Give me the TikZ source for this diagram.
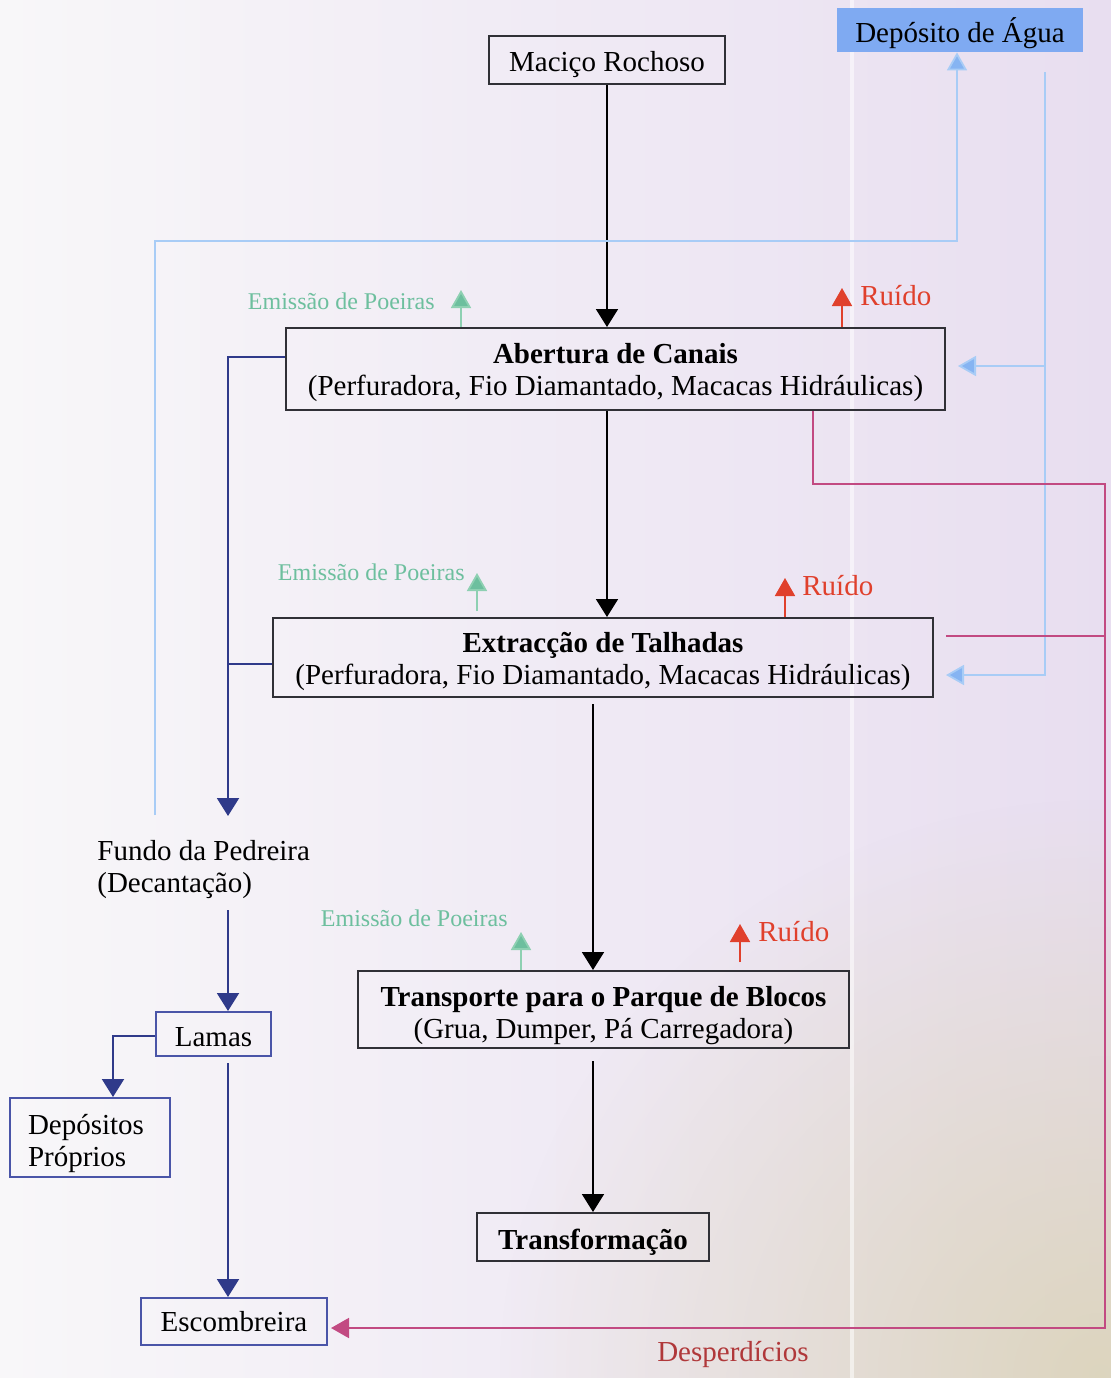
\documentclass[tikz,border=0pt]{standalone}
\usepackage{fontspec}
\setmainfont{Liberation Serif}
\usetikzlibrary{arrows.meta,fadings}

\definecolor{bgA}{HTML}{F8F7F9}
\definecolor{bgM}{HTML}{F0EDF4}
\definecolor{bgB}{HTML}{E8DEF0}
\definecolor{warm}{HTML}{D9D2AE}
\definecolor{boxgray}{HTML}{303036}
\definecolor{navy}{HTML}{2F3A8A}
\definecolor{navybox}{HTML}{4A55A8}
\definecolor{aguablue}{HTML}{7FAAF2}
\definecolor{skyline}{HTML}{A8CCF6}
\definecolor{skytip}{HTML}{86B4F2}
\definecolor{dustgreen}{HTML}{6DBF9E}
\definecolor{dustline}{HTML}{8ED0B2}
\definecolor{noisered}{HTML}{E0402C}
\definecolor{wasteline}{HTML}{C24A82}
\definecolor{wastetext}{HTML}{B0383A}

\tikzfading[name=warmglow, inner color=transparent!25, outer color=transparent!100]

% \topstrut{h} pads the top of a line so the text sits lower in its box
\newcommand{\topstrut}[1]{\rule{0pt}{#1}}

\tikzset{
  x=0.5pt, y=-0.5pt,
  txt/.style={font=\fontsize{14.5}{16}\selectfont},
  mainbox/.style={txt, draw=boxgray, line width=1pt, inner sep=0pt, align=center},
  sidebox/.style={txt, draw=navybox, line width=1pt, inner sep=0pt, align=center},
  tip/.style={-{Triangle[width=11pt,length=9pt]}},
  flow/.style={tip, draw=black, line width=0.9pt},
  slurry/.style={tip, draw=navy, line width=1pt},
  water/.style={-{Triangle[width=10pt,length=9pt,fill=skytip]}, draw=skyline, line width=0.9pt},
  dust/.style={-{Triangle[width=10pt,length=9pt,fill=dustgreen]}, draw=dustline, line width=0.9pt},
  noise/.style={-{Triangle[width=10pt,length=9pt,fill=noisered]}, draw=noisered, line width=0.9pt},
  waste/.style={-{Triangle[width=10pt,length=9pt,fill=wasteline]}, draw=wasteline, line width=0.9pt},
  wasteplain/.style={draw=wasteline, line width=0.9pt},
  dustlabel/.style={font=\fontsize{12}{14}\selectfont, text=dustgreen, inner sep=0pt},
  noiselabel/.style={txt, text=noisered, inner sep=0pt},
}

\begin{document}
\begin{tikzpicture}
% paper background
\useasboundingbox (0,0) rectangle (1111,1378);
\shade[left color=bgA, middle color=bgM, right color=bgB] (0,0) rectangle (1111,1378);
\fill[warm, path fading=warmglow] (500,800) rectangle (1700,1950);
\fill[white, opacity=0.55] (850,0) rectangle (854,1378);

% process boxes
\node[txt, fill=aguablue, minimum width=123pt, minimum height=22pt, inner sep=0pt] (dep) at (960,30) {\topstrut{16pt}Depósito de Água};
\node[mainbox, minimum width=118pt, minimum height=24pt] (mac) at (607,60) {\topstrut{15pt}Maciço Rochoso};
\node[mainbox, minimum width=329.5pt, minimum height=41pt] (abe) at (615.5,369)
  {\topstrut{14pt}\textbf{Abertura de Canais}\\(Perfuradora, Fio Diamantado, Macacas Hidráulicas)};
\node[mainbox, minimum width=330pt, minimum height=39.5pt] (ext) at (603,657.5)
  {\topstrut{14pt}\textbf{Extracção de Talhadas}\\(Perfuradora, Fio Diamantado, Macacas Hidráulicas)};
\node[mainbox, minimum width=245.5pt, minimum height=38.5pt] (tra) at (603.5,1009.5)
  {\topstrut{16pt}\textbf{Transporte para o Parque de Blocos}\\(Grua, Dumper, Pá Carregadora)};
\node[mainbox, minimum width=116pt, minimum height=24pt] (tf) at (593,1237) {\topstrut{15pt}\textbf{Transformação}};

% slurry route
\node[txt, anchor=west, align=left, inner sep=0pt] (fundo) at (97,870) {Fundo da Pedreira\\(Decantação)};
\node[sidebox, minimum width=57.5pt, minimum height=22pt] (lam) at (213.5,1034) {\topstrut{12.6pt}Lamas};
\node[sidebox, minimum width=80pt, minimum height=39.5pt, align=left, text width=62pt] (dp) at (90,1137.5) {\topstrut{16.5pt}Depósitos\\Próprios};
\node[sidebox, minimum width=93pt, minimum height=23.5pt] (esc) at (234,1321.5) {Escombreira};

% emissions
\node[dustlabel, anchor=east] (pA) at (435,301) {Emissão de Poeiras};
\node[dustlabel, anchor=east] (pE) at (465,572) {Emissão de Poeiras};
\node[dustlabel, anchor=east] (pT) at (508,918) {Emissão de Poeiras};
\node[noiselabel, anchor=west] (rA) at (860,296) {Ruído};
\node[noiselabel, anchor=west] (rE) at (802,586) {Ruído};
\node[noiselabel, anchor=west] (rT) at (758,932) {Ruído};
\node[txt, text=wastetext, inner sep=0pt] (desp) at (733,1354) {Desperdícios};

\coordinate (pAend) at (461,290);
\coordinate (pEend) at (477,573);
\coordinate (pTend) at (521,932);
\coordinate (rAend) at (842,288);
\coordinate (rEend) at (785,578);
\coordinate (rTend) at (740,924);

\draw[dust] (abe.north -| pAend) -- (pAend);
\draw[dust] (ext.north -| pEend) ++(0,-6) -- (pEend);
\draw[dust] (tra.north -| pTend) -- (pTend);
\draw[noise] (abe.north -| rAend) -- (rAend);
\draw[noise] (ext.north -| rEend) -- (rEend);
\draw[noise] (tra.north -| rTend) ++(0,-8) -- (rTend);

% main flow
\draw[flow] (mac.south) -- (mac.south |- abe.north);
\draw[flow] (abe.south -| mac.south) -- (ext.north -| mac.south);
\coordinate (spine) at (593,0);
\draw[flow, shorten <=3pt] (ext.south -| spine) -- (tra.north -| spine);
\draw[flow, shorten <=6pt] (tra.south -| spine) -- (tf.north -| spine);

% slurry connectors
\coordinate (drain) at (228,0);
\coordinate (fundoIn) at (228,816);
\coordinate (fundoOut) at (228,910);
\draw[slurry] (abe.west |- 0,357) -| (fundoIn);
\draw[navy, line width=1pt] (ext.west |- 0,664) -- (228,664);
\draw[slurry] (fundoOut) -- (lam.north -| drain);
\draw[slurry] (lam.west |- 0,1036) -| (dp.north -| 113,0);
\draw[slurry, shorten <=3pt] (lam.south -| drain) -- (esc.north -| drain);

% water circuit
\coordinate (wIn) at (155,815);
\coordinate (wRet) at (1045,0);
\draw[water] (wIn) |- (957,241) -- (dep.south -| 957,0);
\draw[water] (dep.south -| wRet) ++(0,20) |- ([xshift=6pt]ext.east |- 0,675);
\draw[water] (wRet |- 0,366) -- ([xshift=6pt]abe.east |- 0,366);

% waste circuit
\coordinate (wasteX) at (1105,0);
\draw[waste] (abe.south -| 813,0) |- (wasteX |- 0,484) |- ([xshift=1.5pt]esc.east |- 0,1328);
\draw[wasteplain] ([xshift=6pt]ext.east |- 0,636) -- (wasteX |- 0,636);
\end{tikzpicture}
\end{document}
